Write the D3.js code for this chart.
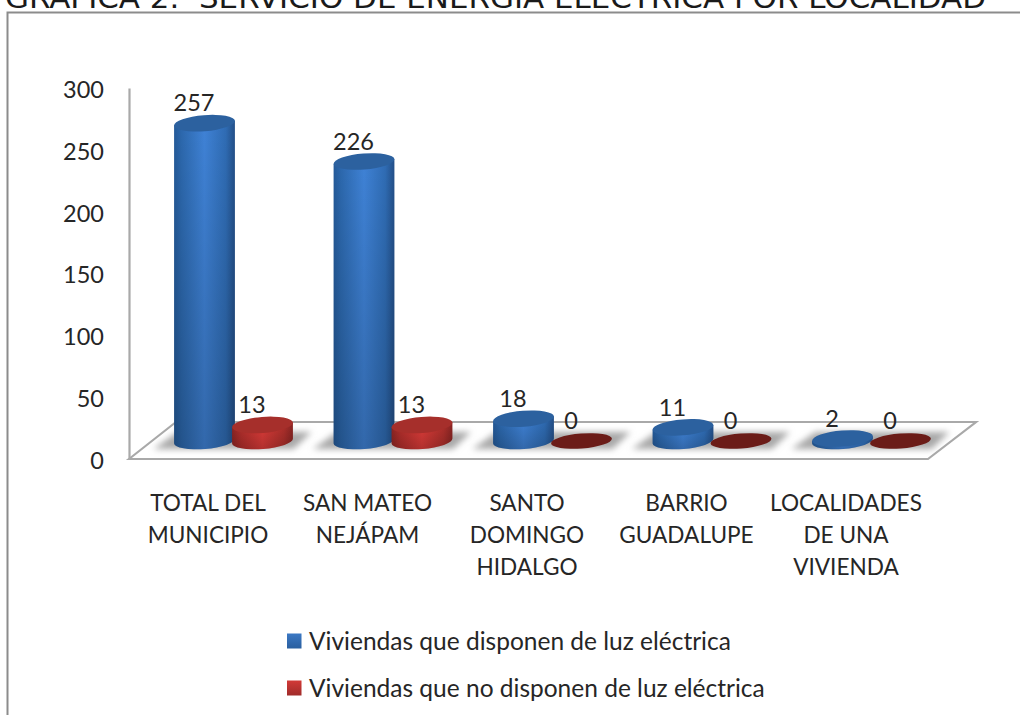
<!DOCTYPE html>
<html>
<head>
<meta charset="utf-8">
<script src="https://cdn.jsdelivr.net/npm/d3@7"></script>
<style>
  html, body { margin: 0; padding: 0; background: #fff; }
  svg { display: block; }
  text { font-family: Lato, sans-serif; fill: #262626; }
</style>
</head>
<body>
<div id="container"></div>
<script>
/* DATA */
const categories = ["TOTAL DEL MUNICIPIO", "SAN MATEO NEJÁPAM", "SANTO DOMINGO HIDALGO", "BARRIO GUADALUPE", "LOCALIDADES DE UNA VIVIENDA"];
const categoryLines = [["TOTAL DEL", "MUNICIPIO"], ["SAN MATEO", "NEJÁPAM"], ["SANTO", "DOMINGO", "HIDALGO"], ["BARRIO", "GUADALUPE"], ["LOCALIDADES", "DE UNA", "VIVIENDA"]];
const seriesNames = ["Viviendas que disponen de luz eléctrica", "Viviendas que no disponen de luz eléctrica"];
const conLuz = [257, 226, 18, 11, 2];
const sinLuz = [13, 13, 0, 0, 0];
const yTicks = [0, 50, 100, 150, 200, 250, 300];
const titleText = "GRÁFICA 2.  SERVICIO DE ENERGÍA ELÉCTRICA POR LOCALIDAD";

/* CONSTANTS AND GLOBALS */
const width = 1020;
const height = 715;
const depthY = 18;      // the bars stand this far above the front edge of the floor
const rx = 30.5;
const ry = 8;
const tilt = 4.5;       // degrees

const svg = d3.select("#container").append("svg")
  .attr("width", width)
  .attr("height", height);

/* SCALES */
const xScale = d3.scaleBand().domain(categories).range([153.75, 951.25]);
const xSeries = d3.scaleBand().domain(seriesNames).range([-58, 58]);
const yScale = d3.scaleLinear().domain([0, 300]).range([459, 88]);

/* GRADIENTS */
const defs = svg.append("defs");
function sideGradient(id, stops) {
  const g = defs.append("linearGradient").attr("id", id);
  stops.forEach(s => g.append("stop").attr("offset", s[0]).attr("stop-color", s[1]));
}
sideGradient("blueSide", [[0, "#245a99"], [.12, "#2c68ad"], [.5, "#3f82d6"], [.85, "#2f6cb4"], [1, "#234f88"]]);
sideGradient("redSide", [[0, "#8f2624"], [.15, "#b32f2c"], [.5, "#dd3c39"], [.85, "#b0302c"], [1, "#8a2523"]]);
const shade = defs.append("linearGradient").attr("id", "shade").attr("x2", 0).attr("y2", 1);
shade.append("stop").attr("offset", 0).attr("stop-color", "#000").attr("stop-opacity", 0);
shade.append("stop").attr("offset", 1).attr("stop-color", "#000").attr("stop-opacity", .2);
defs.append("filter").attr("id", "soft")
  .attr("x", "-20%").attr("y", "-50%").attr("width", "140%").attr("height", "200%")
  .append("feGaussianBlur").attr("stdDeviation", 3);

const swatchBlue = defs.append("linearGradient").attr("id", "swatchBlue").attr("x2", 0).attr("y2", 1);
swatchBlue.append("stop").attr("offset", 0).attr("stop-color", "#3b78c4");
swatchBlue.append("stop").attr("offset", 1).attr("stop-color", "#2a5f9f");
const swatchRed = defs.append("linearGradient").attr("id", "swatchRed").attr("x2", 0).attr("y2", 1);
swatchRed.append("stop").attr("offset", 0).attr("stop-color", "#d23a37");
swatchRed.append("stop").attr("offset", 1).attr("stop-color", "#a02c2a");

/* TITLE AND FRAME */
svg.append("text")
  .attr("x", 5).attr("y", 8)
  .attr("textLength", 981)
  .attr("lengthAdjust", "spacingAndGlyphs")
  .style("font-family", "'DejaVu Sans', sans-serif")
  .style("font-size", "29px")
  .style("white-space", "pre")
  .style("fill", "#1a1a1a")
  .text(titleText);

svg.append("path")
  .attr("d", `M7.5,${height} V12.5 H${width}`)
  .attr("fill", "none")
  .attr("stroke", "#8c8c8c")
  .attr("stroke-width", 2);

/* FLOOR */
const floor = d3.path();
floor.moveTo(129, yScale(0));
floor.lineTo(176, yScale(0) - 37);
floor.lineTo(976, yScale(0) - 37);
floor.lineTo(928, yScale(0));
floor.closePath();
svg.append("path")
  .attr("d", floor)
  .attr("fill", "#fff")
  .attr("stroke", "#a9a9a9")
  .attr("stroke-width", 2.2);

/* SHADOWS */
svg.selectAll(".shadow")
  .data(categories)
  .join("path")
  .attr("class", "shadow")
  .attr("d", d => {
    const c = xScale(d) + xScale.bandwidth() / 2;
    const p = d3.path();
    p.moveTo(c - 80, yScale(0) - 10);
    p.lineTo(c - 56, yScale(0) - 27);
    p.lineTo(c + 78, yScale(0) - 27);
    p.lineTo(c + 60, yScale(0) - 10);
    p.closePath();
    return p;
  })
  .attr("fill", "#a8a8a8")
  .attr("filter", "url(#soft)");

/* Y AXIS */
const yAxis = d3.axisLeft(yScale).tickValues(yTicks).tickSize(0).tickPadding(25);
const yG = svg.append("g")
  .attr("transform", "translate(129,0)")
  .call(yAxis);
yG.select(".domain").attr("stroke", "#a9a9a9").attr("stroke-width", 2.2);
yG.selectAll("text")
  .attr("dy", "0.4em")
  .style("font-size", "23.5px")
  .style("fill", "#262626");

/* CYLINDERS */
const rows = categories.flatMap((c, i) => [
  {category: c, series: seriesNames[0], value: conLuz[i]},
  {category: c, series: seriesNames[1], value: sinLuz[i]}
]);
const cx = d => xScale(d.category) + xScale.bandwidth() / 2 + xSeries(d.series) + xSeries.bandwidth() / 2;
const topY = d => yScale(d.value) - depthY;
const baseY = () => yScale(0) - depthY;
const isBlue = d => d.series === seriesNames[0];
const dx = rx * Math.cos(tilt * Math.PI / 180);
const dy = rx * Math.sin(tilt * Math.PI / 180);

function sidePath(d) {
  const x = cx(d), t = topY(d), b = baseY();
  return `M${x - dx},${t + dy} L${x - dx},${b + dy}`
    + ` A${rx},${ry} ${-tilt} 0 0 ${x + dx},${b - dy}`
    + ` L${x + dx},${t - dy} Z`;
}

const bars = svg.selectAll(".bar")
  .data(rows.filter(d => d.value > 0))
  .join("g")
  .attr("class", "bar");

bars.append("path")
  .attr("d", sidePath)
  .attr("fill", d => isBlue(d) ? "url(#blueSide)" : "url(#redSide)");
bars.append("path")
  .attr("d", sidePath)
  .attr("fill", "url(#shade)");
bars.append("ellipse")
  .attr("rx", rx).attr("ry", ry)
  .attr("transform", d => `translate(${cx(d)},${topY(d)}) rotate(${-tilt})`)
  .attr("fill", d => isBlue(d) ? "#2c619f" : "#a62f2b");

// zero values are only a flat dark disc on the floor
svg.selectAll(".zero")
  .data(rows.filter(d => d.value === 0))
  .join("ellipse")
  .attr("class", "zero")
  .attr("rx", rx).attr("ry", ry - .5)
  .attr("transform", d => `translate(${cx(d)},${topY(d)}) rotate(${-tilt})`)
  .attr("fill", "#6b1c18");

/* VALUE LABELS */
svg.selectAll(".value")
  .data(rows)
  .join("text")
  .attr("class", "value")
  .attr("x", d => cx(d) - 10.5)
  .attr("y", d => topY(d) - 20)
  .attr("dy", "0.35em")
  .attr("text-anchor", "middle")
  .style("font-size", "23.5px")
  .text(d => d.value);

/* CATEGORY LABELS */
svg.selectAll(".cat")
  .data(categories)
  .join("text")
  .attr("class", "cat")
  .attr("text-anchor", "middle")
  .style("font-size", "22.6px")
  .each(function(d, i) {
    d3.select(this).selectAll("tspan")
      .data(categoryLines[i])
      .join("tspan")
      .attr("x", xScale(d) + xScale.bandwidth() / 2 - 25.5)
      .attr("y", (l, j) => 503 + j * 32)
      .attr("dy", "0.35em")
      .text(l => l);
  });

/* LEGEND */
const legend = svg.selectAll(".legend")
  .data(seriesNames)
  .join("g")
  .attr("class", "legend")
  .attr("transform", (d, i) => `translate(287,${641 + i * 47})`);
legend.append("rect")
  .attr("y", -7.5).attr("width", 14.5).attr("height", 15)
  .attr("fill", (d, i) => i === 0 ? "url(#swatchBlue)" : "url(#swatchRed)");
legend.append("text")
  .attr("x", 22)
  .attr("dy", "0.35em")
  .style("font-size", "24.5px")
  .text(d => d);
</script>
</body>
</html>
